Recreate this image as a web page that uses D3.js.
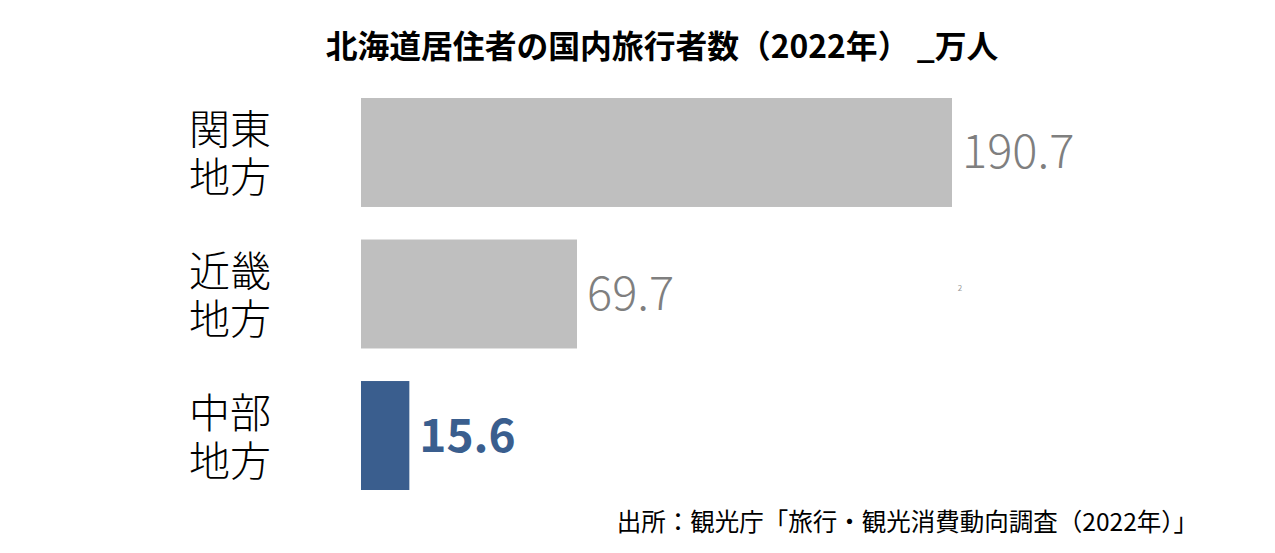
<!DOCTYPE html>
<html><head><meta charset="utf-8">
<script src="https://cdn.jsdelivr.net/npm/d3@7/dist/d3.min.js"></script>
<style>body{margin:0;background:#fff;}svg{display:block;}</style>
</head><body><svg id="c" width="1275" height="553"></svg>
<script>
const categories = [["関東","地方"],["近畿","地方"],["中部","地方"]];
const values = [190.7, 69.7, 15.6];
const highlight = [false, false, true];
const titleText = "北海道居住者の国内旅行者数（2022年） _万人";
const sourceText = "出所：観光庁「旅行・観光消費動向調査（2022年）」";

const svg = d3.select("#c");
const font = "'Noto Sans CJK JP','Noto Sans',sans-serif";
const keys = categories.map(c => c.join(""));
const y = d3.scaleBand().domain(keys).range([98, 490]).paddingInner(0.23).paddingOuter(0);
const x = d3.scaleLinear().domain([0, d3.max(values)]).range([361, 952]);

svg.append("text").attr("x", 662).attr("y", 44).attr("text-anchor","middle")
  .attr("dominant-baseline","central").attr("font-family",font).attr("font-weight",700)
  .attr("font-size",31.8).attr("fill","#000").text(titleText);

const g = svg.append("g");
keys.forEach((k,i) => {
  const cy = y(k) + y.bandwidth()/2;
  g.append("rect").attr("x", x(0)).attr("y", y(k)).attr("width", x(values[i]) - x(0))
    .attr("height", y.bandwidth()).attr("fill", highlight[i] ? "#3a5e8e" : "#bfbfbf");
  g.append("text").attr("x", x(values[i]) + 10).attr("y", cy - (highlight[i] ? 4 : 5))
    .attr("dominant-baseline","central").attr("font-family",font)
    .attr("font-weight", highlight[i] ? 700 : 300)
    .attr("font-size", highlight[i] ? 46 : 47)
    .attr("fill", highlight[i] ? "#3a5e8e" : "#7f7f7f").text(values[i].toFixed(1));
  const t = g.append("text").attr("font-family",font).attr("font-weight",300)
    .attr("font-size",41).attr("fill","#000").attr("dominant-baseline","central");
  categories[i].forEach((line,j) => {
    t.append("tspan").attr("x", 189).attr("y", cy - 26 + j*48).text(line);
  });
});

svg.append("text").attr("x", 960).attr("y", 287).attr("text-anchor","middle")
  .attr("dominant-baseline","central").attr("font-family",font).attr("font-size",8)
  .attr("fill","#999").text("2");

svg.append("text").attr("x", 1198).attr("y", 520).attr("text-anchor","end")
  .attr("dominant-baseline","central").attr("font-family",font).attr("font-weight",400)
  .attr("font-size",24.5).attr("fill","#000").text(sourceText);
</script></body></html>
